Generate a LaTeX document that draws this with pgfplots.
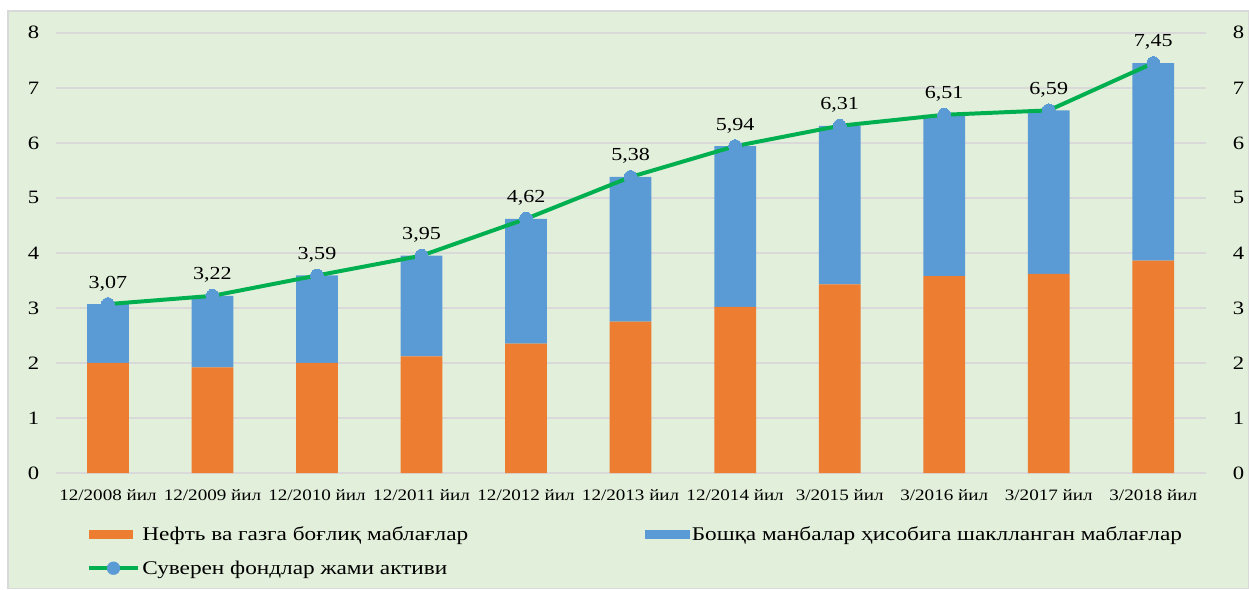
\documentclass[border=0pt]{standalone}
\usepackage{fontspec}
\setmainfont{Liberation Serif}[FakeStretch=1.2]
\usepackage{pgfplots}
\pgfplotsset{compat=1.18}
\definecolor{bg}{HTML}{E2EFDA}
\definecolor{bord}{HTML}{D9D9D9}
\definecolor{oran}{HTML}{ED7D31}
\definecolor{blu}{HTML}{5B9BD5}
\definecolor{grn}{HTML}{00B050}
\definecolor{gridc}{HTML}{D9D9D9}
\pgfplotsset{
  barleg/.style={legend image code/.code={\fill[##1] (0bp,-4.5bp) rectangle (45bp,4.5bp);}},
  lineleg/.style={legend image code/.code={\draw[grn, line width=4bp] (0bp,0bp) -- (50bp,0bp); \fill[blu] (25bp,0bp) circle (6.5bp);}},
}
\pgfplotstableread{
x orange blue total
0 2.00 1.07 3.07
1 1.92 1.30 3.22
2 2.00 1.59 3.59
3 2.12 1.83 3.95
4 2.35 2.27 4.62
5 2.75 2.63 5.38
6 3.02 2.92 5.94
7 3.43 2.88 6.31
8 3.58 2.93 6.51
9 3.62 2.97 6.59
10 3.86 3.59 7.45
}\datatable
\begin{document}
\begin{tikzpicture}[x=1bp,y=1bp]
\fill[white] (0,0) rectangle (1249,587);
\fill[bg,draw=bord,line width=1.5bp] (8,-5) rectangle (1256,576);
\useasboundingbox (0,0) rectangle (1249,587);
\begin{axis}[
  at={(56bp,111bp)}, anchor=south west,
  scale only axis, width=1157bp, height=443bp,
  xmin=-0.5, xmax=10.5, ymin=0, ymax=8,
  ybar stacked, bar width=42bp,
  axis line style={draw=none},
  tick style={draw=none},
  ymajorgrids, major grid style={gridc, line width=1.5bp},
  ytick={0,1,...,8},
  xtick={0,1,...,10},
  xticklabels={12/2008 йил,12/2009 йил,12/2010 йил,12/2011 йил,12/2012 йил,12/2013 йил,12/2014 йил,3/2015 йил,3/2016 йил,3/2017 йил,3/2018 йил},
  x tick label style={font=\fontsize{16bp}{16bp}\selectfont, yshift=-13bp},
  y tick label style={font=\fontsize{19bp}{19bp}\selectfont, xshift=-13bp},
  /pgf/number format/assume math mode=true,
  legend style={at={(0.0242,-0.112)}, anchor=north west, draw=none, fill=none,
    font=\fontsize{19.5bp}{19.5bp}\selectfont, row sep=15bp,
    /tikz/every even column/.append style={column sep=176bp}},
  legend columns=2,
  legend cell align=left,
]
\addplot[fill=oran, draw=none, barleg] table[x=x, y=orange] {\datatable};
\addlegendentry{Нефть ва газга боғлиқ маблағлар}
\addplot[fill=blu, draw=none, barleg] table[x=x, y=blue] {\datatable};
\addlegendentry{Бошқа манбалар ҳисобига шаклланган маблағлар}
\addlegendimage{lineleg}
\addlegendentry{Суверен фондлар жами активи}
\end{axis}
\begin{axis}[
  at={(56bp,111bp)}, anchor=south west,
  scale only axis, width=1157bp, height=443bp,
  xmin=-0.5, xmax=10.5, ymin=0, ymax=8,
  axis x line=none, axis y line*=right,
  axis line style={draw=none},
  tick style={draw=none},
  ytick={0,1,...,8},
  y tick label style={font=\fontsize{19bp}{19bp}\selectfont, xshift=24bp},
  /pgf/number format/assume math mode=true,
  clip=false,
]
\addplot[grn, line width=4bp, mark=*, mark size=6.5bp, mark options={fill=blu, draw=blu, line width=0bp},
  nodes near coords, point meta=y,
  every node near coord/.append style={font=\fontsize{18.5bp}{18.5bp}\selectfont, text=black, yshift=10bp},
  /pgf/number format/.cd, fixed, fixed zerofill, precision=2, use comma, assume math mode=true]
  table[x=x, y=total] {\datatable};
\end{axis}
\end{tikzpicture}
\end{document}
